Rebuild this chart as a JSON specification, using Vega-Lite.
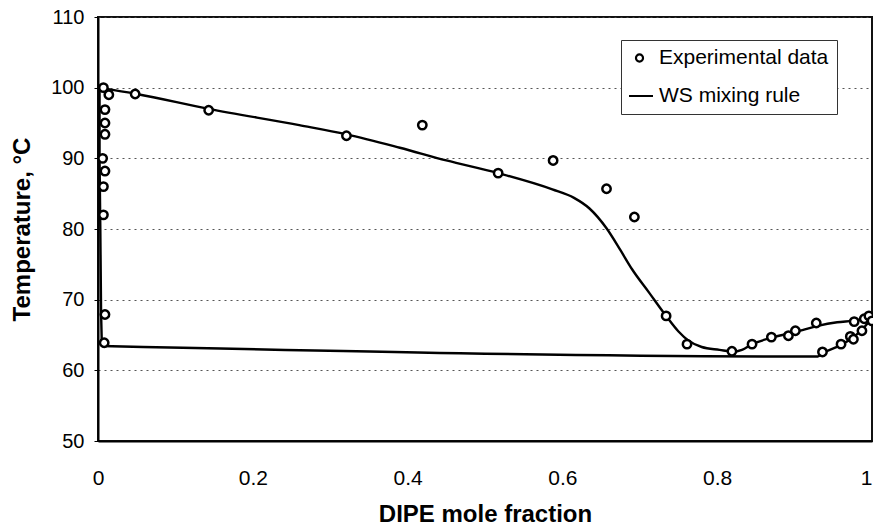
{
  "$schema": "https://vega.github.io/schema/vega-lite/v6.json",
  "width": 774,
  "height": 424,
  "autosize": "none",
  "padding": {"left": 98, "top": 17, "right": 1, "bottom": 88},
  "background": "white",
  "config": {
    "view": {"stroke": "#111", "strokeWidth": 2},
    "font": "Liberation Sans",
    "axis": {"labelFont": "Liberation Sans", "titleFont": "Liberation Sans", "labelColor": "black", "titleColor": "black", "domainColor": "black", "domainWidth": 2, "tickColor": "black"}
  },
  "datasets": {
    "model": [
      {"x": 0.005, "y": 63.45, "seg": "v", "o": 1, "series": "WS mixing rule"},
      {"x": 0.004, "y": 68, "seg": "v", "o": 2, "series": "WS mixing rule"},
      {"x": 0.003, "y": 80, "seg": "v", "o": 3, "series": "WS mixing rule"},
      {"x": 0.002, "y": 90, "seg": "v", "o": 4, "series": "WS mixing rule"},
      {"x": 0.002, "y": 100, "seg": "v", "o": 5, "series": "WS mixing rule"},
      {"x": 0.002, "y": 100, "seg": "a", "o": 5, "series": "WS mixing rule"},
      {"x": 0.05, "y": 99.1, "seg": "a", "o": 6, "series": "WS mixing rule"},
      {"x": 0.143, "y": 97.0, "seg": "a", "o": 7, "series": "WS mixing rule"},
      {"x": 0.26, "y": 94.7, "seg": "a", "o": 8, "series": "WS mixing rule"},
      {"x": 0.321, "y": 93.4, "seg": "a", "o": 9, "series": "WS mixing rule"},
      {"x": 0.39, "y": 91.5, "seg": "a", "o": 10, "series": "WS mixing rule"},
      {"x": 0.45, "y": 89.7, "seg": "a", "o": 11, "series": "WS mixing rule"},
      {"x": 0.517, "y": 87.9, "seg": "a", "o": 12, "series": "WS mixing rule"},
      {"x": 0.587, "y": 85.6, "seg": "a", "o": 13, "series": "WS mixing rule"},
      {"x": 0.615, "y": 84.4, "seg": "a", "o": 14, "series": "WS mixing rule"},
      {"x": 0.635, "y": 82.9, "seg": "a", "o": 15, "series": "WS mixing rule"},
      {"x": 0.657, "y": 80.1, "seg": "a", "o": 16, "series": "WS mixing rule"},
      {"x": 0.675, "y": 77.0, "seg": "a", "o": 17, "series": "WS mixing rule"},
      {"x": 0.69, "y": 74.3, "seg": "a", "o": 18, "series": "WS mixing rule"},
      {"x": 0.712, "y": 71.0, "seg": "a", "o": 19, "series": "WS mixing rule"},
      {"x": 0.734, "y": 67.7, "seg": "a", "o": 20, "series": "WS mixing rule"},
      {"x": 0.75, "y": 65.5, "seg": "a", "o": 21, "series": "WS mixing rule"},
      {"x": 0.763, "y": 64.2, "seg": "a", "o": 22, "series": "WS mixing rule"},
      {"x": 0.78, "y": 63.3, "seg": "a", "o": 23, "series": "WS mixing rule"},
      {"x": 0.803, "y": 62.9, "seg": "a", "o": 24, "series": "WS mixing rule"},
      {"x": 0.82, "y": 62.65, "seg": "a", "o": 25, "series": "WS mixing rule"},
      {"x": 0.832, "y": 62.9, "seg": "a", "o": 26, "series": "WS mixing rule"},
      {"x": 0.845, "y": 63.7, "seg": "a", "o": 27, "series": "WS mixing rule"},
      {"x": 0.87, "y": 64.6, "seg": "a", "o": 28, "series": "WS mixing rule"},
      {"x": 0.892, "y": 65.2, "seg": "a", "o": 29, "series": "WS mixing rule"},
      {"x": 0.91, "y": 65.7, "seg": "a", "o": 30, "series": "WS mixing rule"},
      {"x": 0.93, "y": 66.3, "seg": "a", "o": 31, "series": "WS mixing rule"},
      {"x": 0.955, "y": 66.8, "seg": "a", "o": 32, "series": "WS mixing rule"},
      {"x": 0.975, "y": 67.0, "seg": "a", "o": 33, "series": "WS mixing rule"},
      {"x": 1.0, "y": 67.4, "seg": "a", "o": 34, "series": "WS mixing rule"},
      {"x": 0.005, "y": 63.45, "seg": "b", "o": 1, "series": "WS mixing rule"},
      {"x": 0.93, "y": 61.95, "seg": "b", "o": 2, "series": "WS mixing rule"},
      {"x": 0.936, "y": 62.4, "seg": "b", "o": 3, "series": "WS mixing rule"},
      {"x": 0.96, "y": 63.6, "seg": "b", "o": 4, "series": "WS mixing rule"},
      {"x": 0.975, "y": 64.6, "seg": "b", "o": 5, "series": "WS mixing rule"},
      {"x": 0.99, "y": 66.1, "seg": "b", "o": 6, "series": "WS mixing rule"},
      {"x": 1.0, "y": 67.4, "seg": "b", "o": 7, "series": "WS mixing rule"}
    ],
    "exp": [
      {"x": 0.007, "y": 100.0, "series": "Experimental data"},
      {"x": 0.014, "y": 99.0, "series": "Experimental data"},
      {"x": 0.009, "y": 96.9, "series": "Experimental data"},
      {"x": 0.009, "y": 95.0, "series": "Experimental data"},
      {"x": 0.009, "y": 93.4, "series": "Experimental data"},
      {"x": 0.006, "y": 90.0, "series": "Experimental data"},
      {"x": 0.009, "y": 88.2, "series": "Experimental data"},
      {"x": 0.007, "y": 86.0, "series": "Experimental data"},
      {"x": 0.007, "y": 82.0, "series": "Experimental data"},
      {"x": 0.009, "y": 67.9, "series": "Experimental data"},
      {"x": 0.008, "y": 63.9, "series": "Experimental data"},
      {"x": 0.048, "y": 99.1, "series": "Experimental data"},
      {"x": 0.143, "y": 96.8, "series": "Experimental data"},
      {"x": 0.321, "y": 93.2, "series": "Experimental data"},
      {"x": 0.419, "y": 94.7, "series": "Experimental data"},
      {"x": 0.517, "y": 87.9, "series": "Experimental data"},
      {"x": 0.588, "y": 89.7, "series": "Experimental data"},
      {"x": 0.657, "y": 85.7, "series": "Experimental data"},
      {"x": 0.693, "y": 81.7, "series": "Experimental data"},
      {"x": 0.734, "y": 67.7, "series": "Experimental data"},
      {"x": 0.761, "y": 63.7, "series": "Experimental data"},
      {"x": 0.819, "y": 62.7, "series": "Experimental data"},
      {"x": 0.845, "y": 63.7, "series": "Experimental data"},
      {"x": 0.870, "y": 64.7, "series": "Experimental data"},
      {"x": 0.892, "y": 64.9, "series": "Experimental data"},
      {"x": 0.901, "y": 65.6, "series": "Experimental data"},
      {"x": 0.928, "y": 66.7, "series": "Experimental data"},
      {"x": 0.936, "y": 62.6, "series": "Experimental data"},
      {"x": 0.960, "y": 63.7, "series": "Experimental data"},
      {"x": 0.972, "y": 64.8, "series": "Experimental data"},
      {"x": 0.976, "y": 64.4, "series": "Experimental data"},
      {"x": 0.987, "y": 65.6, "series": "Experimental data"},
      {"x": 0.977, "y": 66.9, "series": "Experimental data"},
      {"x": 0.990, "y": 67.3, "series": "Experimental data"},
      {"x": 0.996, "y": 67.7, "series": "Experimental data"},
      {"x": 1.0, "y": 67.0, "series": "Experimental data"}
    ]
  },
  "encoding": {
    "x": {
      "field": "x", "type": "quantitative",
      "scale": {"domain": [0, 1], "nice": false, "zero": false},
      "axis": {"title": "DIPE mole fraction", "values": [0, 0.2, 0.4, 0.6, 0.8, 1], "format": ".1~f", "ticks": false, "labelPadding": 26, "labelFontSize": 21, "titleFontSize": 24, "titleFontWeight": "bold", "titlePadding": 14, "grid": false, "labelFlush": false, "labelOverlap": false,
        "labelAlign": {"condition": {"test": "datum.value >= 1", "value": "right"}, "value": "center"}}
    },
    "y": {
      "field": "y", "type": "quantitative",
      "scale": {"domain": [50, 110], "nice": false, "zero": false},
      "axis": {"title": "Temperature, °C", "values": [50, 60, 70, 80, 90, 100, 110], "tickSize": 4, "labelPadding": 10, "labelFontSize": 20, "titleFontSize": 24, "titleFontWeight": "bold", "titlePadding": 16, "grid": true, "gridColor": "#444", "gridDash": [2, 4], "gridWidth": 1, "gridOpacity": 0.9}
    },
    "color": {
      "field": "series", "type": "nominal",
      "scale": {"domain": ["Experimental data", "WS mixing rule"], "range": ["black", "black"]},
      "legend": {
        "title": null, "orient": "none", "legendX": 523, "legendY": 23,
        "padding": 8, "strokeColor": "#333", "fillColor": "white",
        "clipHeight": 20, "rowPadding": 17, "symbolSize": 729, "labelOffset": 9, "labelLimit": 400,
        "labelFont": "Liberation Sans", "labelFontSize": 21, "labelColor": "black",
        "encode": {
          "symbols": {
            "update": {
              "shape": {"signal": "datum.value === 'WS mixing rule' ? 'stroke' : 'circle'"},
              "size": {"signal": "datum.value === 'WS mixing rule' ? 729 : 50"},
              "stroke": {"value": "black"},
              "strokeWidth": {"value": 2.2},
              "fill": {"value": "white"},
              "fillOpacity": {"value": 1},
              "opacity": {"value": 1}
            }
          }
        }
      }
    }
  },
  "layer": [
    {
      "data": {"name": "model"},
      "transform": [{"filter": "datum.seg === 'v'"}],
      "mark": {"type": "line", "strokeWidth": 2.4, "interpolate": "linear"},
      "encoding": {
        "detail": {"field": "seg", "type": "nominal"},
        "order": {"field": "o", "type": "quantitative"}
      }
    },
    {
      "data": {"name": "model"},
      "transform": [{"filter": "datum.seg !== 'v'"}],
      "mark": {"type": "line", "strokeWidth": 2.4, "interpolate": "monotone"},
      "encoding": {
        "detail": {"field": "seg", "type": "nominal"},
        "order": {"field": "o", "type": "quantitative"}
      }
    },
    {
      "data": {"name": "exp"},
      "mark": {"type": "point", "shape": "circle", "filled": false, "fill": "white", "fillOpacity": 1, "size": 70, "strokeWidth": 2.5, "opacity": 1},
      "encoding": {}
    }
  ]
}
